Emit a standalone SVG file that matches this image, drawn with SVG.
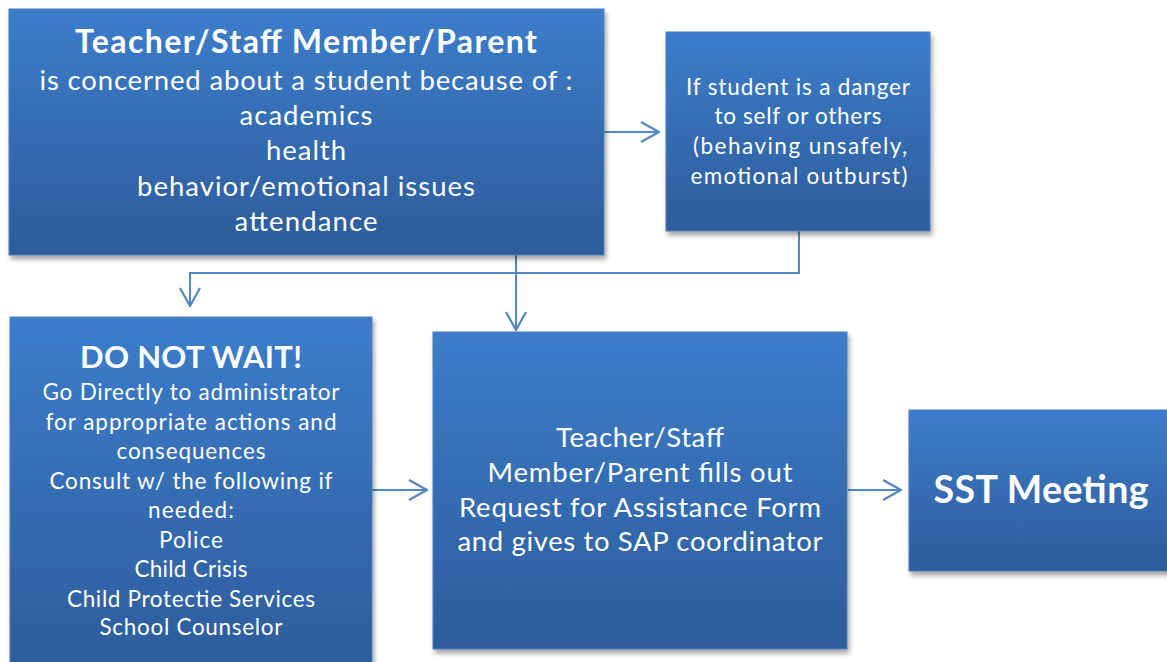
<svg xmlns="http://www.w3.org/2000/svg" width="1167" height="662" viewBox="0 0 1167 662">
<defs>
<linearGradient id="g" x1="0" y1="0" x2="0" y2="1">
<stop offset="0" stop-color="#3C7DCB"/>
<stop offset="1" stop-color="#2D5C9A"/>
</linearGradient>
<filter id="sh" x="-5%" y="-5%" width="115%" height="115%">
<feDropShadow dx="2" dy="4" stdDeviation="2.5" flood-color="#000" flood-opacity="0.35"/>
</filter>
<marker id="ar" viewBox="0 0 20 24" refX="19" refY="12" markerWidth="20" markerHeight="24" markerUnits="userSpaceOnUse" orient="auto">
<path d="M1,2 L19,12 L1,22" fill="none" stroke="#5686C2" stroke-width="2.2"/>
</marker>
</defs>
<style>
.box{fill:url(#g);stroke:#4A7FC2;stroke-width:1;filter:url(#sh)}
text{font-family:Lato,"Liberation Sans",sans-serif;fill:#fff;text-anchor:middle}
.b{font-weight:bold}
.l{font-size:27.5px}
.s{font-size:22.5px}
.con{fill:none;stroke:#5686C2;stroke-width:2;marker-end:url(#ar)}
</style>
<rect width="1167" height="662" fill="#fff"/>
<g id="connectors">
<path class="con" d="M604,132 H659"/>
<path class="con" d="M799,231 V273 H190 V306"/>
<path class="con" d="M516,255 V330"/>
<path class="con" d="M372,490 H427"/>
<path class="con" d="M848,490 H901"/>
</g>
<g id="node1">
<rect class="box" x="9" y="9" width="595" height="246"/>
<text x="306" y="53" class="b" font-size="32" textLength="462">Teacher/Staff Member/Parent</text>
<text x="306" y="90" class="l" textLength="533">is concerned about a student because of :</text>
<text x="306" y="125" class="l" textLength="133">academics</text>
<text x="306" y="160" class="l" textLength="80">health</text>
<text x="306" y="196" class="l" textLength="338">behavior/emotional issues</text>
<text x="306" y="231" class="l" textLength="143">attendance</text>
</g>
<g id="node2">
<rect class="box" x="666" y="32" width="264" height="199"/>
<text x="798" y="95" class="s" textLength="224">If student is a danger</text>
<text x="798" y="124" class="s" textLength="167">to self or others</text>
<text x="800" y="154" class="s" textLength="214">(behaving unsafely,</text>
<text x="799" y="184" class="s" textLength="217">emotional outburst)</text>
</g>
<g id="node3">
<rect class="box" x="10" y="317" width="362" height="360"/>
<text x="191" y="368" class="b" font-size="31" textLength="222">DO NOT WAIT!</text>
<text x="191" y="400" class="s" textLength="297">Go Directly to administrator</text>
<text x="191" y="430" class="s" textLength="291">for appropriate actions and</text>
<text x="191" y="459" class="s" textLength="149">consequences</text>
<text x="191" y="489" class="s" textLength="283">Consult w/ the following if</text>
<text x="191" y="518" class="s" textLength="86">needed:</text>
<text x="191" y="548" class="s" textLength="64">Police</text>
<text x="191" y="577" class="s" textLength="113">Child Crisis</text>
<text x="191" y="607" class="s" textLength="248">Child Protectie Services</text>
<text x="191" y="635" class="s" textLength="183">School Counselor</text>
</g>
<g id="node4">
<rect class="box" x="433" y="332" width="414" height="317"/>
<text x="640" y="447" class="l" textLength="168">Teacher/Staff</text>
<text x="640" y="482" class="l" textLength="305">Member/Parent fills out</text>
<text x="640" y="517" class="l" textLength="362">Request for Assistance Form</text>
<text x="640" y="551" class="l" textLength="365">and gives to SAP coordinator</text>
</g>
<g id="node5">
<rect class="box" x="909" y="410" width="270" height="161"/>
<text x="1041" y="503" class="b" font-size="37.5" textLength="215">SST Meeting</text>
</g>
</svg>
